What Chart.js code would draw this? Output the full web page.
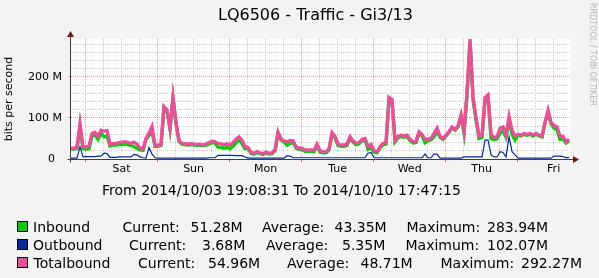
<!DOCTYPE html>
<html>
<head>
<meta charset="utf-8">
<title>LQ6506 - Traffic - Gi3/13</title>
<script src="https://cdn.jsdelivr.net/npm/chart.js@4.4.0/dist/chart.umd.min.js"></script>
<style>
  body { margin: 0; background: #f3f3f3; font-family: 'DejaVu Sans', sans-serif; }
  #wrap { position: relative; width: 599px; height: 278px; overflow: hidden; }
  #graph { position: absolute; left: 0; top: 0; }
  .t { position: absolute; white-space: pre; color: #000; font-size: 14px; line-height: 16px; }
  .sw { position: absolute; left: 17px; width: 11px; height: 11px; box-sizing: border-box; border: 1px solid #000; }
</style>
</head>
<body>
<div id="wrap">
  <canvas id="graph" width="599" height="278"></canvas>

  <div class="t" style="left:218px; top:6.5px; font-size:16px;">LQ6506 - Traffic - Gi3/13</div>
  <div class="t" style="left:-51px; top:93px; width:120px; text-align:center; font-size:11px; line-height:12px; transform:rotate(-90deg);">bits per second</div>
  <div class="t" style="left:587px; top:3px; font-size:8px; line-height:10px; color:#b8b8b8; writing-mode:vertical-rl;">RRDTOOL / TOBI OETIKER</div>

  <div class="t" style="left:102px; top:182px;">From 2014/10/03 19:08:31 To 2014/10/10 17:47:15</div>

  <div class="sw" style="top:221px; background:#00cc00;"></div>
  <div class="sw" style="top:239px; background:#002a97;"></div>
  <div class="sw" style="top:257px; background:#e9509a;"></div>

  <div class="t" style="left:33px; top:218.5px;">Inbound</div>
  <div class="t" style="left:122.5px; top:218.5px;">Current:</div>
  <div class="t" style="left:190.5px; top:218.5px;">51.28M</div>
  <div class="t" style="left:262px; top:218.5px;">Average:</div>
  <div class="t" style="left:334.5px; top:218.5px;">43.35M</div>
  <div class="t" style="left:406.5px; top:218.5px;">Maximum:</div>
  <div class="t" style="left:487px; top:218.5px;">283.94M</div>

  <div class="t" style="left:33px; top:236.5px;">Outbound</div>
  <div class="t" style="left:129px; top:236.5px;">Current:</div>
  <div class="t" style="left:202px; top:236.5px;">3.68M</div>
  <div class="t" style="left:266px; top:236.5px;">Average:</div>
  <div class="t" style="left:342px; top:236.5px;">5.35M</div>
  <div class="t" style="left:405.5px; top:236.5px;">Maximum:</div>
  <div class="t" style="left:487px; top:236.5px;">102.07M</div>

  <div class="t" style="left:33.5px; top:254.5px;">Totalbound</div>
  <div class="t" style="left:138px; top:254.5px;">Current:</div>
  <div class="t" style="left:208px; top:254.5px;">54.96M</div>
  <div class="t" style="left:287px; top:254.5px;">Average:</div>
  <div class="t" style="left:360.5px; top:254.5px;">48.71M</div>
  <div class="t" style="left:440.5px; top:254.5px;">Maximum:</div>
  <div class="t" style="left:521px; top:254.5px;">292.27M</div>
</div>

<script>
// hourly samples (Mbit/s), sample i = i hours after 2014/10/03 19:08:31
const totalbound = [
  26, 26, 28, 85, 30, 30, 31, 62, 65, 55,
  70, 68, 69, 36, 38, 38, 40, 41, 42, 40,
  38, 41, 36, 27, 24, 50, 63, 79, 34, 33,
  35, 128, 120, 75, 150, 88, 45, 38, 37, 36,
  37, 36, 35, 36, 34, 36, 40, 43, 42, 38,
  37, 35, 37, 34, 40, 48, 54, 46, 30, 28,
  16, 14, 18, 15, 13, 17, 14, 15, 22, 65,
  48, 44, 42, 45, 44, 30, 26, 26, 22, 22,
  22, 21, 36, 20, 18, 18, 25, 64, 55, 36,
  34, 34, 36, 54, 44, 38, 40, 48, 50, 30,
  35, 20, 18, 30, 38, 40, 150, 145, 45, 55,
  58, 56, 58, 48, 42, 43, 66, 60, 48, 48,
  50, 62, 75, 55, 50, 58, 67, 78, 72, 80,
  107, 68, 162, 292, 150, 100, 55, 58, 150, 156,
  60, 52, 54, 75, 78, 58, 103, 70, 56, 60,
  58, 62, 60, 62, 58, 62, 58, 56, 90, 118,
  88, 82, 78, 55, 55, 42, 48
];
const outbound = [
  2, 2, 2, 30, 5, 6, 6, 6, 6, 7,
  7, 14, 13, 4, 4, 4, 5, 5, 5, 5,
  5, 11, 10, 5, 3, 2, 28, 12, 3, 2,
  2, 2, 2, 2, 2, 2, 2, 2, 2, 2,
  2, 2, 2, 2, 2, 2, 3, 3, 3, 9,
  9, 9, 9, 9, 9, 8, 8, 8, 5, 2,
  2, 2, 2, 2, 2, 2, 2, 2, 2, 2,
  2, 2, 8, 7, 3, 3, 3, 3, 3, 3,
  3, 3, 3, 3, 3, 3, 3, 3, 3, 3,
  3, 3, 3, 3, 3, 3, 3, 3, 3, 14,
  16, 3, 3, 3, 3, 3, 3, 3, 3, 3,
  3, 3, 3, 3, 3, 3, 3, 3, 12, 3,
  3, 12, 12, 2, 2, 2, 2, 2, 2, 2,
  2, 5, 5, 5, 5, 5, 5, 5, 46, 46,
  10, 5, 5, 18, 16, 5, 54, 18, 10, 2,
  2, 2, 2, 2, 2, 2, 2, 2, 2, 2,
  2, 7, 7, 7, 6, 3, 4
];
const inbound = [
  24, 24, 26, 81, 25, 24, 25, 56, 59, 48,
  63, 54, 56, 32, 34, 34, 35, 36, 37, 35,
  33, 30, 26, 22, 21, 48, 58, 67, 31, 31,
  33, 126, 118, 73, 148, 86, 43, 36, 35, 34,
  35, 34, 33, 34, 32, 34, 37, 40, 39, 29,
  28, 26, 28, 25, 31, 40, 46, 38, 25, 26,
  14, 12, 16, 13, 11, 15, 12, 13, 20, 63,
  46, 42, 34, 38, 41, 27, 23, 23, 19, 19,
  19, 18, 33, 17, 15, 15, 22, 61, 52, 33,
  31, 31, 33, 51, 41, 35, 37, 45, 47, 24,
  28, 17, 15, 27, 35, 37, 147, 142, 42, 52,
  55, 53, 55, 45, 39, 40, 63, 57, 40, 45,
  47, 55, 68, 53, 48, 56, 65, 76, 70, 78,
  105, 63, 157, 284, 145, 95, 50, 53, 145, 150,
  50, 47, 49, 64, 68, 53, 96, 60, 46, 58,
  56, 60, 58, 60, 56, 60, 56, 54, 88, 116,
  86, 75, 71, 48, 49, 39, 44
];

const spanHours = 166.6456;   // 19:08:31 -> 17:47:15 six days later
const firstMidnight = 4.8581; // Sat 00:00
const dayLabels = ['Sat', 'Sun', 'Mon', 'Tue', 'Wed', 'Thu', 'Fri'];
const yMax = 292.27;
const yLabelValues = [0, 100, 200];
const yTickLabels = ['0  ', '100 M', '200 M'];

const hours = totalbound.map((v, i) => i);
const pts = arr => arr.map((v, i) => ({ x: hours[i], y: v }));

const minorColor = '#cfcfcf';
const majorColor = 'rgba(230, 90, 90, 0.6)';

const frame = {
  id: 'frame',
  beforeDraw(chart) {
    const { ctx, chartArea: a } = chart;
    ctx.save();
    ctx.fillStyle = '#ffffff';
    ctx.fillRect(a.left, a.top, a.right - a.left, a.bottom - a.top);
    ctx.restore();
  },
  afterDraw(chart) {
    const { ctx, chartArea: a } = chart;
    const x0 = Math.round(a.left) - 0.5;
    const y0 = Math.round(a.bottom) + 0.5;
    ctx.save();
    ctx.strokeStyle = '#404040';
    ctx.lineWidth = 1;
    ctx.beginPath();
    ctx.moveTo(x0, y0 + 3);
    ctx.lineTo(x0, a.top - 4);
    ctx.moveTo(x0 - 3, y0);
    ctx.lineTo(a.right + 4, y0);
    ctx.stroke();
    ctx.fillStyle = '#7a1010';
    ctx.beginPath();
    ctx.moveTo(x0, a.top - 8);
    ctx.lineTo(x0 - 3.5, a.top - 2);
    ctx.lineTo(x0 + 3.5, a.top - 2);
    ctx.closePath();
    ctx.fill();
    ctx.beginPath();
    ctx.moveTo(a.right + 8, y0);
    ctx.lineTo(a.right + 2, y0 - 3.5);
    ctx.lineTo(a.right + 2, y0 + 3.5);
    ctx.closePath();
    ctx.fill();
    ctx.restore();
  }
};

const ctx = document.getElementById('graph').getContext('2d');
const chart = new Chart(ctx, {
  type: 'line',
  data: {
    datasets: [{
      label: 'Outbound',
      data: pts(outbound),
      borderColor: '#002a97',
      borderWidth: 1.2
    }, {
      label: 'Totalbound',
      data: pts(totalbound),
      borderColor: '#e9509a',
      borderWidth: 3.4
    }, {
      label: 'Inbound',
      data: pts(inbound),
      borderColor: '#00cc00',
      borderWidth: 3.4
    }]
  },
  options: {
    responsive: false,
    animation: false,
    devicePixelRatio: 1,
    layout: { padding: { top: 39, right: 28, bottom: 0, left: 0 } },
    elements: { point: { radius: 0 }, line: { tension: 0 } },
    plugins: { legend: { display: false }, tooltip: { enabled: false } },
    scales: {
      x: {
        type: 'linear',
        min: 0,
        max: spanHours,
        afterBuildTicks: scale => {
          const ticks = [];
          for (let t = firstMidnight; t <= spanHours; t += 6) ticks.push({ value: t });
          scale.ticks = ticks;
        },
        afterFit: scale => { scale.height = 119; },
        ticks: {
          autoSkip: false,
          maxRotation: 0,
          padding: 1,
          color: '#000',
          font: { family: 'DejaVu Sans', size: 11 },
          callback: (v, i) => (i % 4 === 2 ? dayLabels[(i - 2) / 4] : '')
        },
        grid: {
          color: c => (c.index % 4 === 0 ? majorColor : minorColor),
          tickColor: c => (c.index % 4 === 0 ? '#e05050' : 'rgba(0,0,0,0)'),
          tickLength: 3,
          tickBorderDash: []
        },
        border: { display: false, dash: [1, 1] }
      },
      y: {
        min: 0,
        max: yMax,
        afterBuildTicks: scale => {
          const ticks = [];
          for (let v = 0; v < yMax; v += 20) ticks.push({ value: v });
          scale.ticks = ticks;
        },
        afterFit: scale => { scale.width = 71; },
        ticks: {
          autoSkip: false,
          padding: 7,
          color: '#000',
          font: { family: 'DejaVu Sans', size: 11 },
          callback: v => {
            const k = yLabelValues.indexOf(Math.round(v));
            return k >= 0 ? yTickLabels[k] : '';
          }
        },
        grid: {
          color: c => (c.tick && c.tick.value % 100 === 0 ? majorColor : minorColor),
          tickColor: c => (c.tick && c.tick.value % 100 === 0 && c.tick.value > 0 ? '#e05050' : 'rgba(0,0,0,0)'),
          tickLength: 2,
          tickBorderDash: []
        },
        border: { display: false, dash: [1, 1] }
      }
    }
  },
  plugins: [frame]
});
</script>
</body>
</html>
